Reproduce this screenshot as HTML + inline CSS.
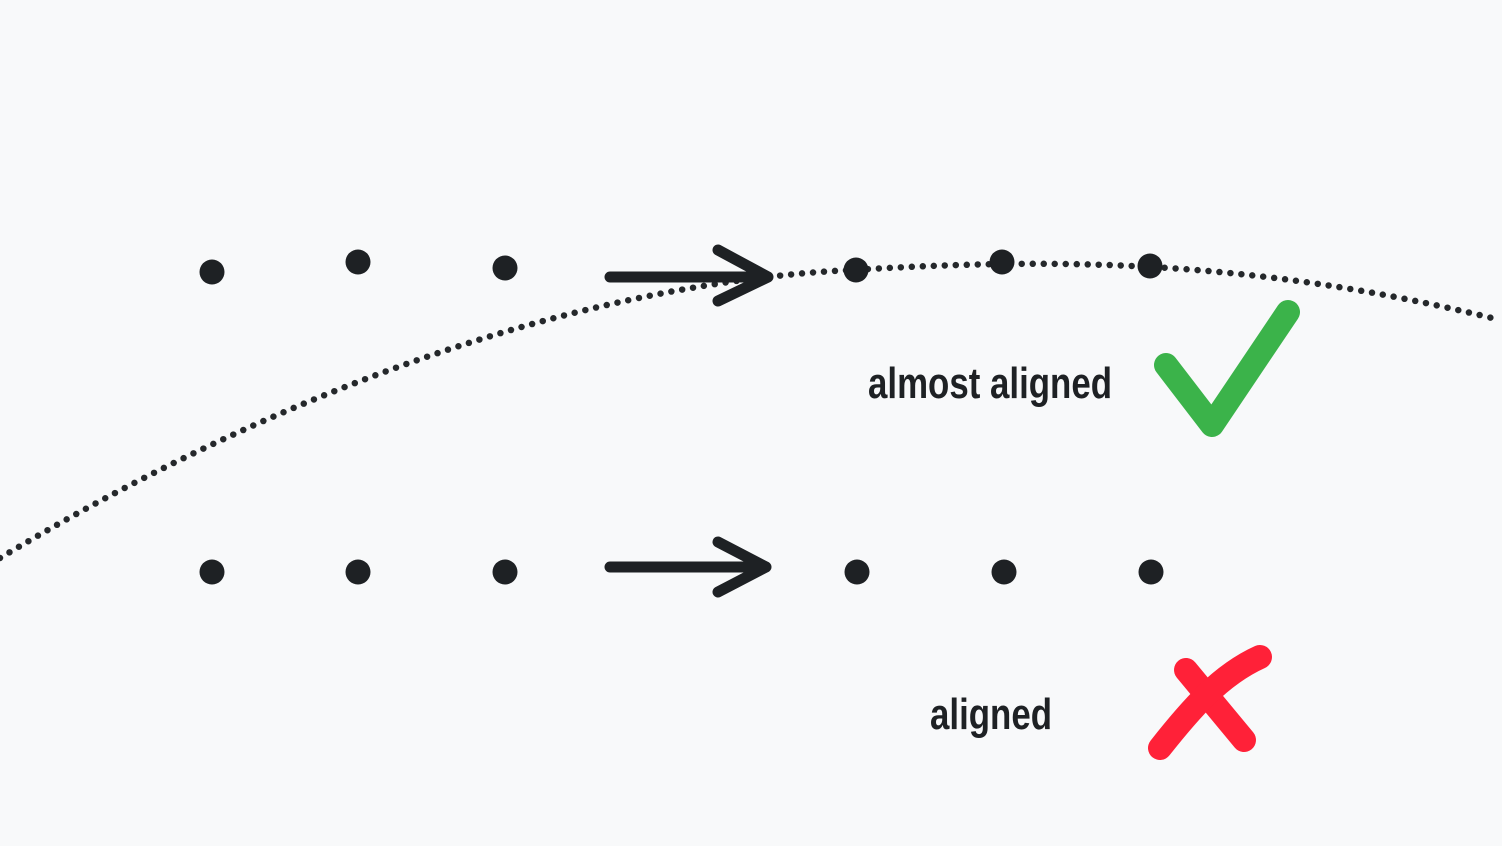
<!DOCTYPE html>
<html><head><meta charset="utf-8"><style>
html,body{margin:0;padding:0;background:#f8f9fa;}
svg{display:block}
.hand{font-family:"Liberation Sans Narrow","Liberation Sans",sans-serif;font-weight:bold;fill:#1e2124}
</style></head><body>
<svg id="c" width="1502" height="846" viewBox="0 0 1502 846">
<rect width="1502" height="846" fill="#f8f9fa"/>
<path d="M0,558 C300,378 600,282 852,270 C1050,258 1250,258 1500,320" fill="none" stroke="#25282b" stroke-width="6.5" stroke-linecap="round" stroke-dasharray="0 11"/>
<g stroke="#1e2124" stroke-width="11" stroke-linecap="round" stroke-linejoin="round" fill="none">
<path d="M610,277 L768,277 M718,250 L768,277 L718,301"/>
<path d="M610,567 L766,567 M718,542 L766,567 L718,592"/>
</g>
<g id="dots"></g>
<text x="868" y="398" class="hand" font-size="44" textLength="244" lengthAdjust="spacingAndGlyphs">almost aligned</text>
<text x="930" y="729" class="hand" font-size="44" textLength="122" lengthAdjust="spacingAndGlyphs">aligned</text>
<path d="M1166,365 L1212,425 L1288,312" fill="none" stroke="#3bb34a" stroke-width="24" stroke-linecap="round" stroke-linejoin="round"/>
<g fill="none" stroke="#ff2138" stroke-width="24" stroke-linecap="round">
<path d="M1186,670 L1244,740"/>
<path d="M1260,657 C1220,675 1190,710 1160,748"/>
</g>
</svg>
<script>
const topX=[212,358,505,856,1002,1150];
const topY=[272,262,268,270,262,266];
const botX=[212,358,505,857,1004,1151];
const botY=[572,572,572,572,572,572];
const g=document.getElementById('dots');
function dot(x,y,name){
  const c=document.createElementNS('http://www.w3.org/2000/svg','circle');
  c.setAttribute('cx',x);c.setAttribute('cy',y);c.setAttribute('r',12.5);c.setAttribute('fill','#1e2124');
  
  
  g.appendChild(c);
}
topX.forEach((x,i)=>dot(x,topY[i],'top-dot'));
botX.forEach((x,i)=>dot(x,botY[i],'bottom-dot'));
</script>
</body></html>
